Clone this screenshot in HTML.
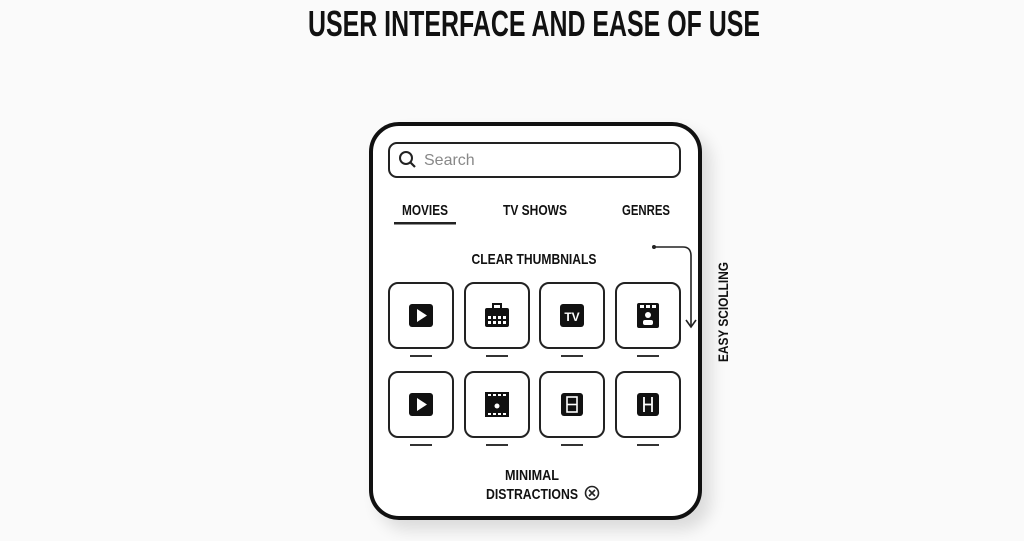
<!DOCTYPE html>
<html><head><meta charset="utf-8"><style>
html,body{margin:0;padding:0;background:#fafafa;}
svg{display:block}
text{font-family:"Liberation Sans",sans-serif;font-weight:bold;fill:#111}
</style></head><body>
<svg width="1024" height="541" viewBox="0 0 1024 541" xmlns="http://www.w3.org/2000/svg">
<defs>
<filter id="sh" x="-20%" y="-20%" width="140%" height="140%"><feGaussianBlur stdDeviation="8"/></filter>
</defs>
<rect width="1024" height="541" fill="#fafafa"/>
<text x="534" y="36" font-size="36" text-anchor="middle" textLength="452" lengthAdjust="spacingAndGlyphs">USER INTERFACE AND EASE OF USE</text>
<rect x="378" y="132" width="333" height="398" rx="30" fill="#000" opacity="0.12" filter="url(#sh)"/>
<rect x="371" y="124" width="329" height="394" rx="28" fill="#fff" stroke="#111" stroke-width="4"/>
<rect x="389" y="143" width="291" height="34" rx="8" fill="#fff" stroke="#222" stroke-width="2"/>
<circle cx="406" cy="158" r="6" fill="none" stroke="#222" stroke-width="2"/>
<line x1="410.5" y1="162.5" x2="415" y2="167" stroke="#222" stroke-width="2.2"/>
<text x="424" y="165" font-size="16" font-weight="normal" style="font-weight:normal;fill:#888">Search</text>
<text x="425" y="215" font-size="15" text-anchor="middle" textLength="46" lengthAdjust="spacingAndGlyphs">MOVIES</text>
<text x="535" y="215" font-size="15" text-anchor="middle" textLength="64" lengthAdjust="spacingAndGlyphs">TV SHOWS</text>
<text x="646" y="215" font-size="15" text-anchor="middle" textLength="48" lengthAdjust="spacingAndGlyphs">GENRES</text>
<rect x="394" y="222" width="62" height="2.5" fill="#222"/>
<text x="534" y="264" font-size="15" text-anchor="middle" textLength="125" lengthAdjust="spacingAndGlyphs">CLEAR THUMBNIALS</text>
<circle cx="654" cy="247" r="2" fill="#222"/>
<path d="M654 247 H683 Q691 247 691 256 V326" fill="none" stroke="#222" stroke-width="1.6"/>
<path d="M686 320 L691 327 L696 320" fill="none" stroke="#222" stroke-width="1.6"/>
<text transform="translate(728,362) rotate(-90)" font-size="14" textLength="100" lengthAdjust="spacingAndGlyphs">EASY SCIOLLING</text>
<g fill="#fff" stroke="#222" stroke-width="2">
<rect x="389" y="283" width="64" height="65" rx="9"/>
<rect x="465" y="283" width="64" height="65" rx="9"/>
<rect x="540" y="283" width="64" height="65" rx="9"/>
<rect x="616" y="283" width="64" height="65" rx="9"/>
<rect x="389" y="372" width="64" height="65" rx="9"/>
<rect x="465" y="372" width="64" height="65" rx="9"/>
<rect x="540" y="372" width="64" height="65" rx="9"/>
<rect x="616" y="372" width="64" height="65" rx="9"/>
</g>
<g fill="#333">
<rect x="410" y="355" width="22" height="2"/><rect x="486" y="355" width="22" height="2"/><rect x="561" y="355" width="22" height="2"/><rect x="637" y="355" width="22" height="2"/>
<rect x="410" y="444" width="22" height="2"/><rect x="486" y="444" width="22" height="2"/><rect x="561" y="444" width="22" height="2"/><rect x="637" y="444" width="22" height="2"/>
</g>
<!-- row1 icons -->
<rect x="409" y="304" width="24" height="23" rx="3" fill="#111"/>
<path d="M417 309 L427 315.5 L417 322 Z" fill="#fff"/>
<rect x="493" y="304" width="8" height="5" fill="none" stroke="#111" stroke-width="2"/>
<rect x="485" y="308" width="24" height="19" rx="2" fill="#111"/>
<g fill="#fff"><rect x="488" y="316" width="3" height="3"/><rect x="493" y="316" width="3" height="3"/><rect x="498" y="316" width="3" height="3"/><rect x="503" y="316" width="3" height="3"/><rect x="488" y="321" width="3" height="3"/><rect x="493" y="321" width="3" height="3"/><rect x="498" y="321" width="3" height="3"/><rect x="503" y="321" width="3" height="3"/></g>
<rect x="560" y="304" width="24" height="23" rx="3" fill="#111"/>
<text x="572" y="321" font-size="12" text-anchor="middle" style="fill:#fff">TV</text>
<rect x="637" y="303" width="22" height="25" rx="2" fill="#111"/>
<g fill="#fff"><rect x="640" y="305" width="4" height="3"/><rect x="646" y="305" width="4" height="3"/><rect x="652" y="305" width="4" height="3"/><circle cx="648" cy="315" r="3"/><rect x="643" y="320" width="10" height="5" rx="2"/></g>
<!-- row2 icons -->
<rect x="409" y="393" width="24" height="23" rx="3" fill="#111"/>
<path d="M417 398 L427 404.5 L417 411 Z" fill="#fff"/>
<rect x="485" y="392" width="24" height="25" fill="#111"/>
<g fill="#fff"><rect x="488" y="394" width="3" height="2"/><rect x="493" y="394" width="3" height="2"/><rect x="498" y="394" width="3" height="2"/><rect x="503" y="394" width="3" height="2"/><rect x="488" y="413" width="3" height="2"/><rect x="493" y="413" width="3" height="2"/><rect x="498" y="413" width="3" height="2"/><rect x="503" y="413" width="3" height="2"/><circle cx="497" cy="406" r="2.5"/></g>
<rect x="561" y="393" width="22" height="23" rx="3" fill="#111"/>
<rect x="567" y="397" width="10" height="15" fill="none" stroke="#fff" stroke-width="1.6"/><line x1="567" y1="404.5" x2="577" y2="404.5" stroke="#fff" stroke-width="1.6"/>
<rect x="637" y="393" width="22" height="23" rx="3" fill="#111"/>
<g stroke="#fff" stroke-width="1.8"><line x1="644" y1="397" x2="644" y2="412"/><line x1="652" y1="397" x2="652" y2="412"/><line x1="644" y1="404.5" x2="652" y2="404.5"/></g>
<text x="532" y="480" font-size="15" text-anchor="middle" textLength="54" lengthAdjust="spacingAndGlyphs">MINIMAL</text>
<text x="532" y="499" font-size="15" text-anchor="middle" textLength="92" lengthAdjust="spacingAndGlyphs">DISTRACTIONS</text>
<circle cx="592" cy="493" r="6.5" fill="none" stroke="#222" stroke-width="1.6"/>
<path d="M589 490 L595 496 M595 490 L589 496" stroke="#222" stroke-width="1.6"/>
</svg>
</body></html>
